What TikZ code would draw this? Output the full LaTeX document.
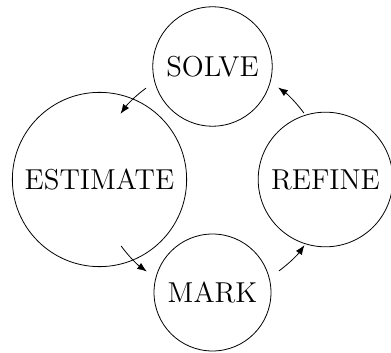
\documentclass[tikz,border=0pt]{standalone}
\usepackage{tikz}
\usetikzlibrary{arrows.meta,calc}

\begin{document}
\begin{tikzpicture}[>=Latex,
  phase/.style={draw,circle,inner sep=5pt,font=\Large}]
  \useasboundingbox (-106.25pt,-86.75pt) rectangle (89.25pt,89.75pt);
  \coordinate (hub) at (0,0);
  \node[phase] (solve) at (90:56.5pt) {SOLVE};
  \node[phase] (estimate) at (180:56.5pt) {ESTIMATE};
  \node[phase] (mark) at (270:56.5pt) {MARK};
  \node[phase] (refine) at (0:56.5pt) {REFINE};
  % arrows run round the hub between the phases
  \foreach \a in {0,90,180,270}
    \draw[->] ($(hub)+(\a+36:56.5pt)$) arc[start angle=\a+36,end angle=\a+54.5,radius=56.5pt];
\end{tikzpicture}
\end{document}
